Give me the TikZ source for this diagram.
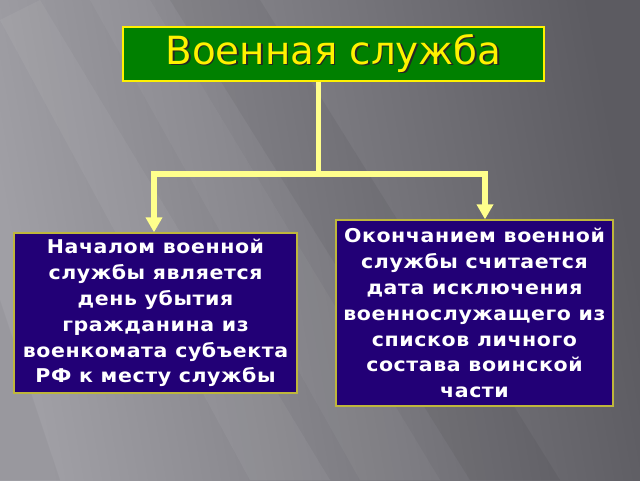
\documentclass[tikz,border=0pt]{standalone}
\usepackage{fontspec}
\setmainfont{DejaVu Sans}
\usepackage{tikz}
\usetikzlibrary{calc,positioning,arrows.meta}

\definecolor{bgLight}{RGB}{160,159,165}
\definecolor{bgDark}{RGB}{92,91,97}
\definecolor{titleGreen}{RGB}{0,128,0}
\definecolor{boxBlue}{RGB}{34,0,118}
\definecolor{boxEdge}{RGB}{190,182,60}
\definecolor{linkYellow}{RGB}{255,255,140}

\newfontfamily\boxfont[FakeStretch=1.08,LetterSpace=3]{DejaVu Sans Bold}
\newcommand{\shadowed}[1]{\makebox[0pt][l]{\hspace{1.6pt}\raisebox{-1.6pt}{\color{black!85}#1}}#1}

\begin{document}
\begin{tikzpicture}[x=1pt,y=1pt,
		infobox/.style={draw=boxEdge,line width=1.3pt,fill=boxBlue,text=white,align=center,
			font=\boxfont\fontsize{19}{25.9}\selectfont,inner sep=0pt},
		link/.style={draw=linkYellow,line width=5.5pt,line join=miter}]
		% background
		\useasboundingbox (0,0) rectangle (640,-480);
		\shade[shading=axis,left color=bgLight,right color=bgDark,shading angle=100] (0,0) rectangle (640,-480);
		\fill[white,opacity=0.05] (0,-20) -- (40,0) -- (330,-480) -- (250,-480) -- cycle;
		\fill[white,opacity=0.04] (90,0) -- (150,0) -- (440,-480) -- (360,-480) -- cycle;
		\fill[black,opacity=0.05] (170,0) -- (260,0) -- (560,-480) -- (470,-480) -- cycle;
		\fill[black,opacity=0.04] (0,-300) -- (0,-480) -- (60,-480) -- cycle;

		% boxes
		\node(title) at (333.5,-54) [draw=yellow,line width=2.6pt,fill=titleGreen,text=yellow,
			minimum width=421pt,minimum height=54pt,font=\fontsize{38.8}{42}\selectfont] {\shadowed{Военная служба}};
		\node(start) at (155.5,-313) [infobox,minimum width=283pt,minimum height=160pt]
			{Началом военной\\службы является\\день убытия\\гражданина из\\военкомата субъекта\\РФ к месту службы};
		\node(finish) at (474.5,-313) [infobox,minimum width=277pt,minimum height=186pt]
			{Окончанием военной\\службы считается\\дата исключения\\военнослужащего из\\списков личного\\состава воинской\\части};

		% connectors
		\coordinate (split) at (318.5,-174);
		\coordinate (lturn) at (154,-174);
		\coordinate (rturn) at (485,-174);
		\draw[link] (title.south -| split) -- (split);
		\draw[link,{Triangle[width=16pt,length=15pt]}-{Triangle[width=16pt,length=15pt]}]
			(start.north -| lturn) -- (lturn) -- (rturn) -- (finish.north -| rturn);
	\end{tikzpicture}
\end{document}
